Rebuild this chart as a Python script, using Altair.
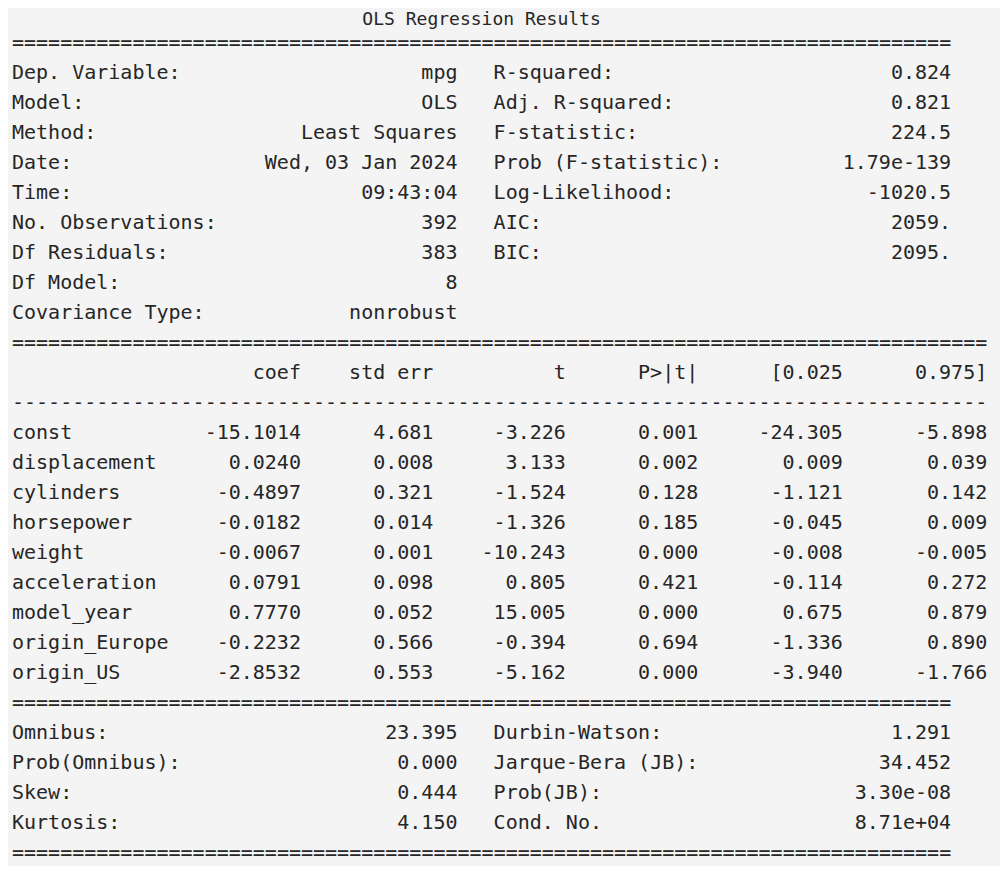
import altair as alt
import pandas as pd

# ---------------- data ----------------
title_text = "OLS Regression Results"

top_left_labels = ["Dep. Variable:", "Model:", "Method:", "Date:", "Time:",
                   "No. Observations:", "Df Residuals:", "Df Model:", "Covariance Type:"]
top_left_values = ["mpg", "OLS", "Least Squares", "Wed, 03 Jan 2024", "09:43:04",
                   "392", "383", "8", "nonrobust"]
top_right_labels = ["R-squared:", "Adj. R-squared:", "F-statistic:", "Prob (F-statistic):",
                    "Log-Likelihood:", "AIC:", "BIC:"]
top_right_values = ["0.824", "0.821", "224.5", "1.79e-139", "-1020.5", "2059.", "2095."]

param_headers = ["coef", "std err", "t", "P>|t|", "[0.025", "0.975]"]
param_names = ["const", "displacement", "cylinders", "horsepower", "weight",
               "acceleration", "model_year", "origin_Europe", "origin_US"]
coef = ["-15.1014", "0.0240", "-0.4897", "-0.0182", "-0.0067", "0.0791", "0.7770", "-0.2232", "-2.8532"]
std_err = ["4.681", "0.008", "0.321", "0.014", "0.001", "0.098", "0.052", "0.566", "0.553"]
t_vals = ["-3.226", "3.133", "-1.524", "-1.326", "-10.243", "0.805", "15.005", "-0.394", "-5.162"]
p_vals = ["0.001", "0.002", "0.128", "0.185", "0.000", "0.421", "0.000", "0.694", "0.000"]
ci_low = ["-24.305", "0.009", "-1.121", "-0.045", "-0.008", "-0.114", "0.675", "-1.336", "-3.940"]
ci_high = ["-5.898", "0.039", "0.142", "0.009", "-0.005", "0.272", "0.879", "0.890", "-1.766"]

diag_left_labels = ["Omnibus:", "Prob(Omnibus):", "Skew:", "Kurtosis:"]
diag_left_values = ["23.395", "0.000", "0.444", "4.150"]
diag_right_labels = ["Durbin-Watson:", "Jarque-Bera (JB):", "Prob(JB):", "Cond. No."]
diag_right_values = ["1.291", "34.452", "3.30e-08", "8.71e+04"]

# separator lines: (line index, character, length)
separators = [(1, "=", 78), (11, "=", 81), (13, "-", 81), (23, "=", 78), (28, "=", 78)]

# ---------------- build cell tables (line, column, text) ----------------
title_cells = [(0, 39, title_text)]   # centred over the 78-character table
left_cells = []
right_cells = []

for ln, ch, n in separators:
    left_cells.append((ln, 0, ch * n))

for i, (lab, val) in enumerate(zip(top_left_labels, top_left_values)):
    left_cells.append((2 + i, 0, lab))
    right_cells.append((2 + i, 37, val))
for i, (lab, val) in enumerate(zip(top_right_labels, top_right_values)):
    left_cells.append((2 + i, 40, lab))
    right_cells.append((2 + i, 78, val))

param_cols = [24, 35, 46, 57, 69, 81]
for h, c in zip(param_headers, param_cols):
    right_cells.append((12, c, h))
for i, name in enumerate(param_names):
    left_cells.append((14 + i, 0, name))
    for vals, c in zip([coef, std_err, t_vals, p_vals, ci_low, ci_high], param_cols):
        right_cells.append((14 + i, c, vals[i]))

for i, (lab, val) in enumerate(zip(diag_left_labels, diag_left_values)):
    left_cells.append((24 + i, 0, lab))
    right_cells.append((24 + i, 37, val))
for i, (lab, val) in enumerate(zip(diag_right_labels, diag_right_values)):
    left_cells.append((24 + i, 40, lab))
    right_cells.append((24 + i, 78, val))

title_df = pd.DataFrame(title_cells, columns=["line", "col", "text"])
left_df = pd.DataFrame(left_cells, columns=["line", "col", "text"])
right_df = pd.DataFrame(right_cells, columns=["line", "col", "text"])

# ---------------- chart ----------------
CW = 12.04  # character advance at 20px monospace
x_scale = alt.Scale(domain=[0, 82], range=[4, 4 + 82 * CW])
y_scale = alt.Scale(domain=[0, 28], range=[5, 845])

FONT = "DejaVu Sans Mono"
COLOR = "#262626"

def text_layer(df, align, dy=0, size=20):
    return alt.Chart(df).mark_text(
        align=align, baseline="middle", font=FONT, fontSize=size, color=COLOR, dy=dy
    ).encode(
        x=alt.X("col:Q", scale=x_scale, axis=None),
        y=alt.Y("line:Q", scale=y_scale, axis=None),
        text="text:N",
    )

chart = alt.layer(
    text_layer(title_df, "center", dy=7, size=18),
    text_layer(left_df, "left"),
    text_layer(right_df, "right"),
).properties(
    width=992, height=858, background="#f4f4f4", padding=0,
    autosize=alt.AutoSizeParams(type="none"),
).configure_view(stroke=None)

chart.save("out.html", embed_options={"renderer": "svg", "actions": False})
